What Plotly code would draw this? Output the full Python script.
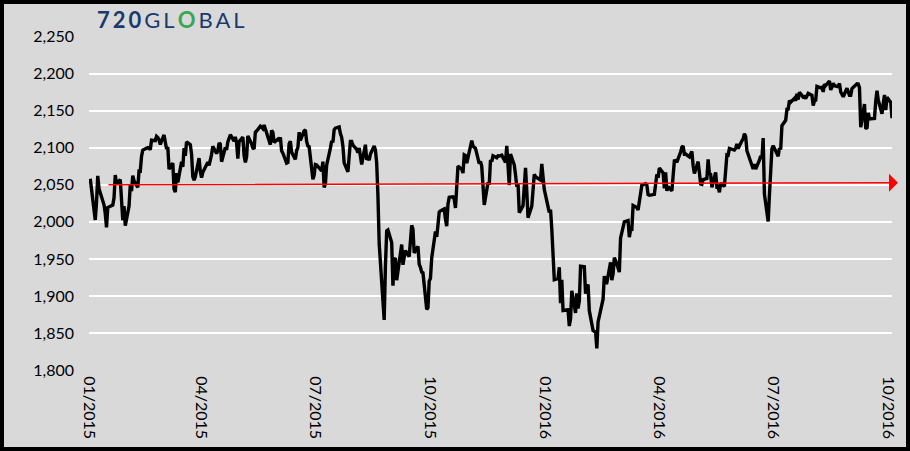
import plotly.graph_objects as go

# S&P 500 daily closes, one row per month
dates = (
    [f"2015-01-{d}" for d in ["02","05","06","07","08","09","12","13","14","15","16","20","21","22","23","26","27","28","29","30"]]
    + [f"2015-02-{d}" for d in ["02","03","04","05","06","09","10","11","12","13","17","18","19","20","23","24","25","26","27"]]
    + [f"2015-03-{d}" for d in ["02","03","04","05","06","09","10","11","12","13","16","17","18","19","20","23","24","25","26","27","30","31"]]
    + [f"2015-04-{d}" for d in ["01","02","06","07","08","09","10","13","14","15","16","17","20","21","22","23","24","27","28","29","30"]]
    + [f"2015-05-{d}" for d in ["01","04","05","06","07","08","11","12","13","14","15","18","19","20","21","22","26","27","28","29"]]
    + [f"2015-06-{d}" for d in ["01","02","03","04","05","08","09","10","11","12","15","16","17","18","19","22","23","24","25","26","29","30"]]
    + [f"2015-07-{d}" for d in ["01","02","06","07","08","09","10","13","14","15","16","17","20","21","22","23","24","27","28","29","30","31"]]
    + [f"2015-08-{d}" for d in ["03","04","05","06","07","10","11","12","13","14","17","18","19","20","21","24","25","26","27","28","31"]]
    + [f"2015-09-{d}" for d in ["01","02","03","04","08","09","10","11","14","15","16","17","18","21","22","23","24","25","28","29","30"]]
    + [f"2015-10-{d}" for d in ["01","02","05","06","07","08","09","12","13","14","15","16","19","20","21","22","23","26","27","28","29","30"]]
    + [f"2015-11-{d}" for d in ["02","03","04","05","06","09","10","11","12","13","16","17","18","19","20","23","24","25","27","30"]]
    + [f"2015-12-{d}" for d in ["01","02","03","04","07","08","09","10","11","14","15","16","17","18","21","22","23","24","28","29","30","31"]]
    + [f"2016-01-{d}" for d in ["04","05","06","07","08","11","12","13","14","15","19","20","21","22","25","26","27","28","29"]]
    + [f"2016-02-{d}" for d in ["01","02","03","04","05","08","09","10","11","12","16","17","18","19","22","23","24","25","26","29"]]
    + [f"2016-03-{d}" for d in ["01","02","03","04","07","08","09","10","11","14","15","16","17","18","21","22","23","24","28","29","30","31"]]
    + [f"2016-04-{d}" for d in ["01","04","05","06","07","08","11","12","13","14","15","18","19","20","21","22","25","26","27","28","29"]]
    + [f"2016-05-{d}" for d in ["02","03","04","05","06","09","10","11","12","13","16","17","18","19","20","23","24","25","26","27","31"]]
    + [f"2016-06-{d}" for d in ["01","02","03","06","07","08","09","10","13","14","15","16","17","20","21","22","23","24","27","28","29","30"]]
    + [f"2016-07-{d}" for d in ["01","05","06","07","08","11","12","13","14","15","18","19","20","21","22","25","26","27","28","29"]]
    + [f"2016-08-{d}" for d in ["01","02","03","04","05","08","09","10","11","12","15","16","17","18","19","22","23","24","25","26","29","30","31"]]
    + [f"2016-09-{d}" for d in ["01","02","06","07","08","09","12","13","14","15","16","19","20","21","22","23","26","27","28","29","30"]]
    + [f"2016-10-{d}" for d in ["03","04"]]
)

closes = [
    2058.2,2020.6,2002.6,2025.9,2062.1,2044.8,2028.3,2023.0,2011.3,1992.7,2019.4,2022.6,2032.1,2063.2,2051.8,2057.1,2029.6,2002.2,2021.3,1995.0,
    2020.9,2050.0,2041.5,2062.5,2055.5,2046.7,2068.6,2068.5,2088.5,2097.0,2100.3,2099.7,2097.5,2110.3,2109.7,2115.5,2113.9,2110.7,2104.5,
    2117.4,2107.8,2098.5,2101.0,2071.3,2079.4,2044.2,2040.2,2066.0,2053.4,2081.2,2074.3,2099.5,2089.3,2108.1,2104.4,2091.5,2061.1,2056.2,2061.0,2086.2,2067.9,
    2059.7,2067.0,2080.6,2076.3,2081.9,2091.2,2102.1,2092.4,2095.8,2106.6,2105.0,2081.2,2100.4,2097.3,2108.0,2112.9,2117.7,2108.9,2114.8,2106.9,2085.5,
    2108.3,2114.5,2089.5,2080.2,2088.0,2116.1,2105.3,2099.9,2098.5,2121.1,2122.7,2129.2,2127.8,2125.9,2130.8,2126.1,2104.2,2123.5,2120.8,2107.4,
    2111.7,2109.6,2114.1,2095.8,2092.8,2079.3,2080.2,2105.2,2108.9,2094.1,2084.4,2096.3,2100.4,2121.2,2110.0,2122.9,2124.2,2108.6,2102.3,2101.5,2057.6,2063.1,
    2077.4,2076.8,2068.8,2081.3,2046.7,2051.3,2076.6,2099.6,2109.0,2107.4,2124.3,2126.6,2128.3,2119.2,2114.2,2102.2,2079.7,2067.6,2093.3,2108.6,2108.6,2103.8,
    2098.0,2093.3,2099.8,2083.6,2077.6,2104.2,2084.1,2086.1,2083.4,2091.5,2102.4,2096.9,2079.6,2035.7,1970.9,1893.2,1867.6,1940.5,1987.7,1988.9,1972.2,
    1913.9,1948.9,1951.1,1921.2,1969.4,1942.0,1952.3,1961.1,1953.0,1978.1,1995.3,1990.2,1958.0,1967.0,1942.7,1938.8,1932.2,1931.3,1881.8,1884.1,1920.0,
    1923.8,1951.4,1987.1,1979.9,1995.8,2013.4,2014.9,2017.5,2003.7,1994.2,2023.9,2033.1,2033.7,2030.8,2018.9,2052.5,2075.2,2071.2,2065.9,2090.4,2089.4,2079.4,
    2104.1,2109.8,2102.3,2099.9,2099.2,2078.6,2081.7,2075.0,2046.0,2023.0,2053.2,2050.4,2083.6,2081.2,2089.2,2086.6,2089.1,2088.9,2090.1,2080.4,
    2102.6,2079.5,2049.6,2091.7,2077.1,2063.6,2047.6,2052.2,2012.4,2021.9,2043.4,2073.1,2041.9,2005.6,2021.2,2039.0,2064.3,2061.0,2056.5,2078.4,2063.4,2043.9,
    2012.7,2016.7,1990.3,1943.1,1922.0,1923.7,1938.7,1890.3,1921.8,1880.3,1881.3,1859.3,1869.0,1906.9,1877.1,1903.6,1883.0,1893.4,1940.2,
    1939.4,1903.0,1912.5,1915.5,1880.1,1853.4,1852.2,1851.9,1829.1,1864.8,1895.6,1926.8,1917.8,1917.8,1945.5,1921.3,1929.8,1951.7,1948.1,1932.2,
    1978.4,1986.5,1993.4,2000.0,2001.8,1979.3,1989.3,1989.6,2022.2,2019.6,2015.9,2027.2,2040.6,2049.6,2051.6,2049.8,2036.7,2035.9,2037.1,2055.0,2064.0,2059.7,
    2072.8,2066.1,2045.2,2066.7,2041.9,2047.6,2042.0,2061.7,2082.4,2082.8,2080.7,2094.3,2100.8,2102.4,2091.5,2091.6,2087.8,2091.7,2095.2,2075.8,2065.3,
    2081.4,2063.4,2051.1,2050.6,2057.1,2058.7,2084.4,2064.5,2064.1,2046.6,2066.7,2047.2,2047.6,2040.0,2052.3,2048.0,2076.1,2090.5,2090.1,2099.1,2097.0,
    2099.3,2105.3,2099.1,2109.4,2112.1,2119.1,2115.5,2096.1,2079.1,2075.3,2071.5,2078.0,2071.2,2083.3,2088.9,2085.5,2113.3,2037.4,2000.5,2036.1,2070.8,2098.9,
    2103.0,2088.6,2099.7,2097.9,2129.9,2137.2,2152.1,2152.4,2163.8,2161.7,2166.9,2163.8,2173.0,2165.2,2175.0,2168.5,2169.2,2166.6,2170.1,2173.6,
    2170.8,2157.0,2163.8,2164.3,2182.9,2180.9,2181.7,2175.5,2185.8,2184.1,2190.2,2178.2,2182.2,2187.0,2183.9,2182.6,2186.9,2175.4,2172.5,2169.0,2180.4,2176.1,2171.0,
    2170.9,2180.0,2186.5,2186.2,2181.3,2127.8,2159.0,2127.0,2125.8,2147.3,2139.2,2139.1,2139.8,2163.1,2177.2,2164.7,2146.1,2159.9,2171.4,2151.1,2168.3,
    2161.2,2140.0,
]

# red reference line: start/end of the arrow
arrow_start = ("2015-01-15", 2050)
arrow_end_y = 2053

W, H = 910, 451
L, R, T, B = 89, 18, 36, 81
pw, ph = W - L - R, H - T - B
BG = "#d9d9d9"
FONT = "Lato"

fig = go.Figure()
fig.add_trace(go.Scatter(x=dates, y=closes, mode="lines",
                         line=dict(color="black", width=3.4), showlegend=False))

# arrow running to just past the right edge of the plot
fig.add_annotation(xref="paper", yref="y", x=1 + 6 / pw, y=arrow_end_y,
                   axref="pixel", ayref="pixel",
                   ax=-(pw + 6 - 18), ay=(arrow_end_y - arrow_start[1]) * ph / 450,
                   showarrow=True, arrowhead=1, arrowsize=2, arrowwidth=1.5,
                   arrowcolor="#ff0000", text="")

# logo
fig.add_annotation(xref="paper", yref="paper", x=6 / pw, y=1 + 17 / ph,
                   xanchor="left", yanchor="middle", showarrow=False,
                   text="<span style='letter-spacing:3px'><b>720</b>GL"
                        "<span style='color:#3aa655'><b>O</b></span>BAL</span>",
                   font=dict(family=FONT, size=22, color="#1b3a6b"))

# outer border
fig.add_shape(type="rect", xref="paper", yref="paper",
              x0=(-L + 2) / pw, x1=1 + (R - 2) / pw,
              y0=(-B + 2) / ph, y1=1 + (T - 2) / ph,
              line=dict(color="black", width=4), layer="above")

fig.update_layout(
    width=W, height=H,
    margin=dict(l=L, r=R, t=T, b=B),
    paper_bgcolor=BG, plot_bgcolor=BG,
    font=dict(family=FONT, size=16, color="black"),
    xaxis=dict(range=["2015-01-01", "2016-10-04"], tick0="2015-01-01", dtick="M3",
               tickformat="%m/%Y", tickangle=90, showgrid=False, zeroline=False,
               showline=True, linecolor=BG, linewidth=3, ticks=""),
    yaxis=dict(range=[1800, 2251], dtick=50, tickformat=",", showgrid=True,
               gridcolor="white", gridwidth=2, zeroline=False, ticks="",
               ticklabelstandoff=14),
)

# drop the browser's default body margin so the figure sits at the window's corner
fig.write_html("out.html", config={"displayModeBar": False},
               post_script="document.body.style.margin='0';")
